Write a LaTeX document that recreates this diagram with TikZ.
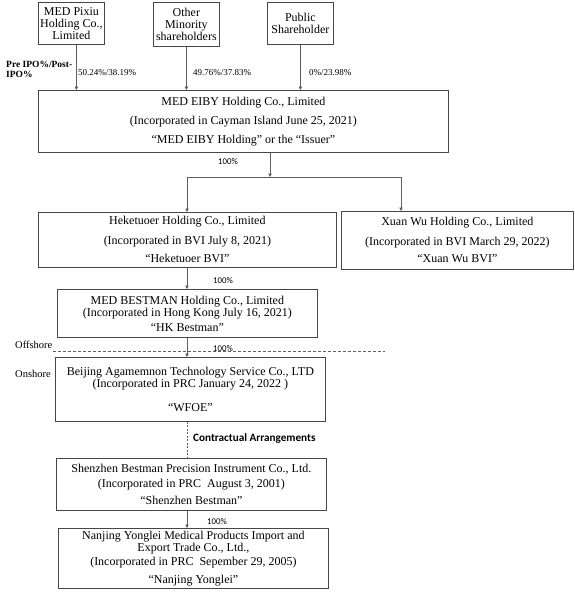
\documentclass[tikz,border=0pt]{standalone}
\usepackage{fontspec}
\setmainfont{Liberation Serif}
\newfontfamily\calib{Carlito}
\usetikzlibrary{arrows.meta}
\definecolor{boxc}{RGB}{70,70,70}
\definecolor{linec}{RGB}{95,95,95}
\begin{document}
\begin{tikzpicture}[x=1pt,y=-1pt,
 box/.style={draw=boxc, line width=0.8pt, inner sep=0pt, anchor=north west, align=center, font=\fontsize{12}{12}\selectfont},
 arr/.style={draw=linec, line width=0.8pt, -{Triangle[length=3.5pt,width=3.5pt]}},
 ln/.style={draw=linec, line width=0.8pt},
 pct/.style={font=\calib\fontsize{8.8}{9}\selectfont, inner sep=0pt},
 spct/.style={font=\fontsize{9}{10}\selectfont, inner sep=0pt, anchor=west},
 side/.style={font=\fontsize{10.5}{11}\selectfont, anchor=west, inner sep=0pt},
]
\useasboundingbox[fill=white] (0,0) rectangle (574,595);

\node[box, minimum width=66pt, minimum height=42pt] (pixiu) at (38,2) {MED Pixiu\\Holding Co.,\\Limited};
\node[box, minimum width=66pt, minimum height=44pt] (other) at (153,2) {Other\\Minority\\shareholders};
\node[box, minimum width=66pt, minimum height=42pt] (public) at (267,2) {Public\\Shareholder};

\node[box, minimum width=410pt, minimum height=62pt] (eiby) at (38,90) {MED EIBY Holding Co., Limited\\[7pt](Incorporated in Cayman Island June 25, 2021)\\[7pt]“MED EIBY Holding” or the “Issuer”};

\node[box, minimum width=298pt, minimum height=55pt] (heke) at (38,212) {Heketuoer Holding Co., Limited\\[8pt](Incorporated in BVI July 8, 2021)\\[6pt]“Heketuoer BVI”};
\node[box, minimum width=232pt, minimum height=58pt] (xuan) at (341,211) {Xuan Wu Holding Co., Limited\\[8pt](Incorporated in BVI March 29, 2022)\\[5pt]“Xuan Wu BVI”};

\node[box, minimum width=260pt, minimum height=48pt] (hk) at (57,289) {MED BESTMAN Holding Co., Limited\\(Incorporated in Hong Kong July 16, 2021)\\[3pt]“HK Bestman”};
\node[box, minimum width=270pt, minimum height=64pt] (beijing) at (55,357) {Beijing Agamemnon Technology Service Co., LTD\\(Incorporated in PRC January 24, 2022 )\\[12pt]“WFOE”};
\node[box, minimum width=270pt, minimum height=52pt] (shenzhen) at (56,458) {Shenzhen Bestman Precision Instrument Co., Ltd.\\[3pt](Incorporated in PRC\ \ August 3, 2001)\\[5pt]“Shenzhen Bestman”};
\node[box, minimum width=270pt, minimum height=60pt] (nanjing) at (58,528) {Nanjing Yonglei Medical Products Import and\\Export Trade Co., Ltd.,\\[2pt](Incorporated in PRC\ \ Sepember 29, 2005)\\[6pt]“Nanjing Yonglei”};

\node[font=\bfseries\fontsize{9.5}{10}\selectfont, align=left, anchor=north west, inner sep=0pt] (preipo) at (6,61) {Pre IPO\%/Post-\\IPO\%};
\node[spct] (p1) at (78,73) {50.24\%/38.19\%};
\node[spct] (p2) at (193,73) {49.76\%/37.83\%};
\node[spct] (p3) at (309,73) {0\%/23.98\%};

\node[pct] (c1) at (228,162) {100\%};
\node[pct] (c2) at (223,281) {100\%};
\node[pct] (c3) at (223,349) {100\%};
\node[pct] (c4) at (217,522) {100\%};
\node[font=\calib\bfseries\fontsize{11.2}{12}\selectfont, anchor=west, inner sep=0pt] (contract) at (193,439) {Contractual Arrangements};
\node[side] (off) at (15,345) {Offshore};
\node[side] (on) at (15,374) {Onshore};

\coordinate (bar) at (270,177);
\coordinate (barL) at (187,177);
\coordinate (barR) at (401,177);
\coordinate (spine) at (187,0);
\coordinate (offL) at (53,351);
\coordinate (offR) at (385,351);

\draw[arr] ([xshift=5pt]pixiu.south) -- ([xshift=5pt]pixiu.south |- eiby.north);
\draw[arr] (other.south) -- (other.south |- eiby.north);
\draw[arr] (public.south) -- (public.south |- eiby.north);
\draw[arr] (eiby.south -| bar) -- (bar);
\draw[ln] (barL) -- (barR);
\draw[arr] (barL) -- (barL |- heke.north);
\draw[arr] (barR) -- (barR |- xuan.north);
\draw[arr] (spine |- heke.south) -- (spine |- hk.north);
\draw[arr] (spine |- hk.south) -- (spine |- beijing.north);
\draw[ln, dash pattern=on 2pt off 1.5pt] (spine |- beijing.south) -- (spine |- shenzhen.north);
\draw[arr] (spine |- shenzhen.south) -- (spine |- nanjing.north);
\draw[ln, dash pattern=on 3pt off 2pt] (offL) -- (offR);
\end{tikzpicture}
\end{document}
